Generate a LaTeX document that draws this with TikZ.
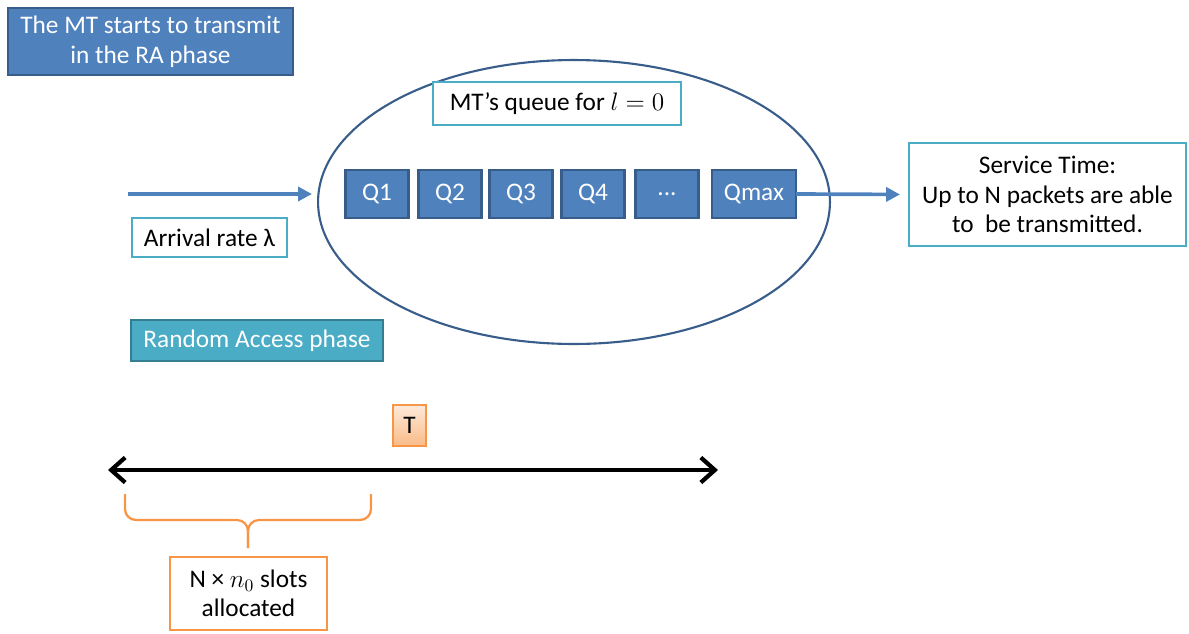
\documentclass[tikz,border=0pt]{standalone}
\usepackage{fontspec}
\setmainfont{Carlito}
\usetikzlibrary{arrows.meta}
\definecolor{queueBlue}{HTML}{4F81BD}
\definecolor{queueEdge}{HTML}{385D8A}
\definecolor{queueTeal}{HTML}{4BACC6}
\definecolor{queueTealDark}{HTML}{357D91}
\definecolor{queueOrange}{HTML}{F79646}
\tikzset{
  queue diagram/.style={
    x=0.02cm, y=-0.02cm,
    every node/.style={font=\fontsize{14.4}{16.8}\selectfont,
      align=center, inner sep=0pt, outer sep=0pt}
  },
  queue cell/.style={draw=queueEdge, fill=queueBlue, line width=1.2pt,
    text=white, minimum height=0.96cm},
  teal frame/.style={draw=queueTeal, fill=white, line width=1.2pt},
  flow arrow/.style={draw=queueBlue, line width=2.1pt,
    -{Triangle[length=0.28cm,width=0.28cm]}},
  slot brace/.style={draw=queueOrange, line width=1.3pt, rounded corners=0.22cm}
}
\begin{document}
\begin{tikzpicture}[queue diagram]
    \useasboundingbox (0,0) rectangle (1189,633);
    % phase note
    \node[queue cell, minimum width=5.7cm, minimum height=1.34cm] (start)
      at (150.5,41.5) {The MT starts to transmit\\in the RA phase};
    % queue of the MT
    \draw[queueEdge, line width=1.2pt] (574,202) ellipse (5.12cm and 2.84cm);
    \node[teal frame, minimum width=4.96cm, minimum height=0.86cm] (title)
      at (557,103.5) {MT’s queue for $l=0$};
    \node[queue cell, minimum width=1.26cm] (q1) at (377,194) {Q1};
    \node[queue cell, minimum width=1.26cm] (q2) at (450,194) {Q2};
    \node[queue cell, minimum width=1.26cm] (q3) at (521,194) {Q3};
    \node[queue cell, minimum width=1.26cm] (q4) at (593,194) {Q4};
    \node[queue cell, minimum width=1.26cm] (qdots) at (667,194) {...};
    \node[queue cell, minimum width=1.68cm] (qmax) at (754,194) {Qmax};
    \node[teal frame, minimum width=5.54cm, minimum height=2.06cm] (service)
      at (1047.5,194.5) {Service Time:\\Up to N packets are able\\to\ \ be transmitted.};
    % arrivals
    \coordinate (in start) at (128,194);
    \coordinate (in end) at (312,194);
    \draw[flow arrow] (in start) -- (in end);
    \draw[flow arrow, shorten >=0.18cm] (qmax.east) -- (service.west);
    \node[teal frame, minimum width=3.1cm, minimum height=0.78cm] (arrival)
      at (209.5,237.5) {Arrival rate λ};
    \node[draw=queueTealDark, fill=queueTeal, line width=1.2pt, text=white,
      minimum width=5.04cm, minimum height=0.82cm] (ra)
      at (257,340.5) {Random Access phase};
    % time line
    \node[draw=queueOrange, top color=queueOrange!20, bottom color=queueOrange!65,
      line width=0.8pt, minimum width=0.66cm, minimum height=0.82cm] (period)
      at (409.5,425.5) {T};
    \coordinate (t left) at (108,470);
    \coordinate (t right) at (718,470);
    \draw[line width=2.4pt,
      {Straight Barb[length=0.28cm,width=0.5cm]}-{Straight Barb[length=0.28cm,width=0.5cm]}]
      (t left) -- (t right);
    \coordinate (b left) at (125,494);
    \coordinate (b right) at (371,494);
    \coordinate (b tip) at (248,548);
    \draw[slot brace] (b left) -- (125,520) -- (248,520) -- (b tip);
    \draw[slot brace] (b right) -- (371,520) -- (248,520) -- (b tip);
    \node[draw=queueOrange, fill=white, line width=1.2pt,
      minimum width=3.14cm, minimum height=1.46cm] (slots)
      at (248.5,593.5) {N × $n_0$ slots\\allocated};
\end{tikzpicture}
\end{document}
